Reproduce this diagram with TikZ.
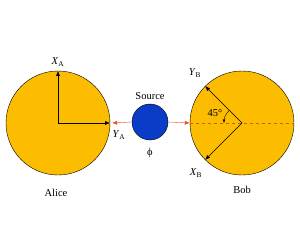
\documentclass[tikz,border=0pt]{standalone}
\usepackage{amsmath,amssymb}
\usepackage{fontspec}
\setmainfont{Liberation Serif}
\usepackage{xcolor}
\usepackage{tikz}
\usetikzlibrary{arrows.meta,calc}
\definecolor{OroDisco}{RGB}{252,188,0}
\definecolor{AzulFuente}{RGB}{10,60,200}
\definecolor{RojoHaz}{RGB}{232,80,30}
\definecolor{NaranjaEje}{RGB}{190,100,20}

\begin{document}
\begin{tikzpicture}[x=1pt,y=1pt,>={Latex[length=5pt,width=4pt]},font=\fontsize{10.5}{12}\selectfont]
  \useasboundingbox[fill=white] (0,0) rectangle (300,250);
  % discos
  \node[circle,draw=black,fill=OroDisco,minimum size=104pt,inner sep=0pt] (A) at (58,127) {};
  \node[circle,draw=black,fill=OroDisco,minimum size=104pt,inner sep=0pt] (B) at (242,127) {};
  \node[circle,draw=black,fill=AzulFuente,minimum size=36pt,inner sep=0pt] (S) at (150,128) {};
  % ejes de Alice
  \draw[->,semithick] (A.center) -- (A.north);
  \draw[->,semithick] (A.center) -- (A.east);
  \node (xa) at (58,188) {\textit{X}\textsubscript{A}};
  \node (ya) at (119,115) {\textit{Y}\textsubscript{A}};
  % haces de la fuente
  \draw[->,RojoHaz] (S.west) -- ($(A.east)+(2,0)$);
  \draw[->,RojoHaz] (S.east) -- (B.west);
  % ejes de Bob
  \draw[dashed,NaranjaEje] (B.west) -- (B.east);
  \draw[->,semithick] (B.center) -- (B.135);
  \draw[->,semithick] (B.center) -- (B.225);
  \draw[->,>={Latex[length=3.5pt,width=3pt]}] ($(B.center)+(135:18)$) arc (135:180:18);
  \node (ang) at (215,137) {45°};
  \node (yb) at (195,177) {\textit{Y}\textsubscript{B}};
  \node (xb) at (196,77) {\textit{X}\textsubscript{B}};
  % textos
  \node (alice) at (56,57) {Alice};
  \node (bob) at (242,60) {Bob};
  \node (src) at (150,154) {Source};
  \node (phi) at (150,97) {ϕ};
\end{tikzpicture}
\end{document}
